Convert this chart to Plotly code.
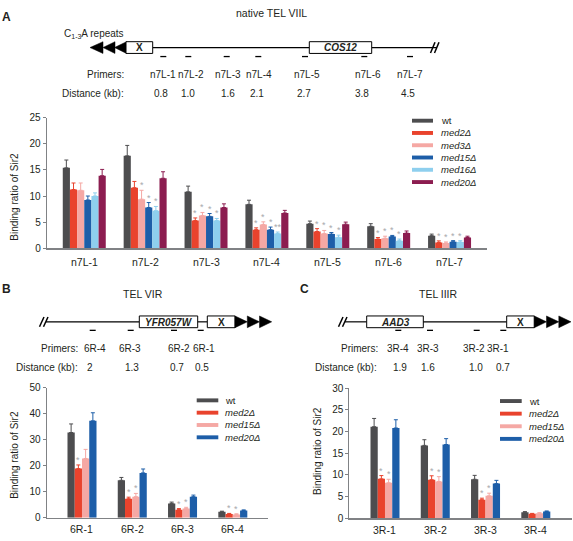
import plotly.graph_objects as go

W, H = 573, 541
def px(x): return x / W
def py(y): return 1 - y / H

FONT = "Liberation Sans, Arial, sans-serif"
TXT = "#231f20"
AX = "#808285"
STAR = "#a7a9ac"

C_WT = "#4d4d4f"
C_RED = "#e9432d"
C_PINK = "#f5a8a4"
C_BLUE = "#1d5ea8"
C_LBLUE = "#8ecfee"
C_MAROON = "#8c1d50"

# ---------------- Panel A data ----------------
cats_A = ["n7L-1", "n7L-2", "n7L-3", "n7L-4", "n7L-5", "n7L-6", "n7L-7"]
series_A = ["wt", "med2Δ", "med3Δ", "med15Δ", "med16Δ", "med20Δ"]
wt_A = [15.4, 17.7, 10.8, 8.4, 4.7, 4.2, 2.4]
wt_A_err = [1.5, 2.0, 1.1, 0.8, 0.5, 0.5, 0.3]
med2_A = [11.25, 11.6, 5.3, 3.55, 3.2, 1.75, 1.1]
med2_A_err = [1.25, 1.2, 0.5, 0.35, 0.55, 0.3, 0.3]
med3_A = [11.1, 9.4, 6.25, 4.55, 2.8, 1.9, 1.0]
med3_A_err = [1.4, 1.7, 0.6, 0.5, 0.6, 0.4, 0.2]
med15_A = [9.25, 7.8, 6.1, 3.55, 2.7, 2.25, 1.25]
med15_A_err = [0.75, 0.95, 0.55, 0.5, 0.3, 0.2, 0.2]
med16_A = [10.0, 7.2, 5.3, 2.8, 2.1, 1.45, 1.2]
med16_A_err = [0.6, 0.8, 0.4, 0.3, 0.4, 0.3, 0.25]
med20_A = [13.9, 13.4, 7.8, 6.75, 4.6, 2.9, 2.05]
med20_A_err = [1.2, 1.25, 0.7, 0.5, 0.4, 0.4, 0.25]
stars_A = {
    "med2Δ": ["", "", "*", "*", "*", "*", "*"],
    "med3Δ": ["", "*", "*", "*", "*", "*", "*"],
    "med15Δ": ["", "*", "*", "*", "*", "*", "*"],
    "med16Δ": ["", "*", "*", "**", "*", "*", "*"],
}
primers_A = ["n7L-1", "n7L-2", "n7L-3", "n7L-4", "n7L-5", "n7L-6", "n7L-7"]
dist_A = ["0.8", "1.0", "1.6", "2.1", "2.7", "3.8", "4.5"]

# ---------------- Panel B data ----------------
cats_B = ["6R-1", "6R-2", "6R-3", "6R-4"]
series_B = ["wt", "med2Δ", "med15Δ", "med20Δ"]
wt_B = [32.8, 14.4, 5.5, 2.25]
wt_B_err = [3.3, 1.1, 0.5, 0.25]
med2_B = [18.9, 7.3, 3.1, 1.4]
med2_B_err = [1.4, 0.6, 0.4, 0.25]
med15_B = [22.8, 8.1, 3.5, 1.25]
med15_B_err = [3.5, 1.25, 0.5, 0.25]
med20_B = [37.3, 17.25, 8.1, 2.75]
med20_B_err = [3.1, 1.5, 0.6, 0.25]
stars_B = {
    "med2Δ": ["*", "*", "*", "*"],
    "med15Δ": ["", "*", "*", "*"],
}
primers_B = ["6R-4", "6R-3", "6R-2", "6R-1"]
dist_B = ["2", "1.3", "0.7", "0.5"]

# ---------------- Panel C data ----------------
cats_C = ["3R-1", "3R-2", "3R-3", "3R-4"]
series_C = ["wt", "med2Δ", "med15Δ", "med20Δ"]
wt_C = [21.1, 16.8, 9.0, 1.4]
wt_C_err = [1.9, 1.3, 0.9, 0.15]
med2_C = [9.1, 8.9, 4.3, 1.05]
med2_C_err = [0.75, 0.9, 0.35, 0.1]
med15_C = [8.2, 8.5, 5.2, 1.2]
med15_C_err = [0.8, 1.1, 0.6, 0.1]
med20_C = [20.8, 17.0, 8.0, 1.6]
med20_C_err = [1.9, 1.35, 0.75, 0.1]
stars_C = {
    "med2Δ": ["*", "*", "*", ""],
    "med15Δ": ["*", "*", "*", ""],
}
primers_C = ["3R-4", "3R-3", "3R-2", "3R-1"]
dist_C = ["1.9", "1.6", "1.0", "0.7"]

panels = [
    dict(xa="x", ya="y", cats=cats_A, series=series_A,
         vals=[wt_A, med2_A, med3_A, med15_A, med16_A, med20_A],
         errs=[wt_A_err, med2_A_err, med3_A_err, med15_A_err, med16_A_err, med20_A_err],
         colors=[C_WT, C_RED, C_PINK, C_BLUE, C_LBLUE, C_MAROON], stars=stars_A,
         group=0.706, xdom=[px(46.7), px(486.7)], ydom=[py(247.7), py(114.3)],
         xr=[-0.617, 6.61], yr=[0, 25], dtick=5, laby=262,
         leg=dict(sx0=412, sx1=433, tx=439, y0=117.3, dy=12.55)),
    dict(xa="x2", ya="y2", cats=cats_B, series=series_B,
         vals=[wt_B, med2_B, med15_B, med20_B],
         errs=[wt_B_err, med2_B_err, med15_B_err, med20_B_err],
         colors=[C_WT, C_RED, C_PINK, C_BLUE], stars=stars_B,
         group=0.577, xdom=[px(46.5), px(268)], ydom=[py(523.3), py(390.5)],
         xr=[-0.706, 3.70], yr=[0, 50], dtick=10, laby=534.5,
         leg=dict(sx0=196.7, sx1=218.3, tx=222.7, y0=403.3, dy=12.6)),
    dict(xa="x3", ya="y3", cats=cats_C, series=series_C,
         vals=[wt_C, med2_C, med15_C, med20_C],
         errs=[wt_C_err, med2_C_err, med15_C_err, med20_C_err],
         colors=[C_WT, C_RED, C_PINK, C_BLUE], stars=stars_C,
         group=0.577, xdom=[px(349.3), px(572)], ydom=[py(524), py(390.7)],
         xr=[-0.71, 3.72], yr=[0, 30], dtick=5, laby=535.5,
         leg=dict(sx0=500, sx1=521.7, tx=526.7, y0=404, dy=12.9)),
]

fig = go.Figure()
shapes = []
annotations = []

def ann(x, y, text, size=10, xanchor="center", yanchor="middle", color=TXT, angle=0):
    annotations.append(dict(x=px(x), y=py(y), xref="paper", yref="paper", text=text,
                            showarrow=False, xanchor=xanchor, yanchor=yanchor,
                            textangle=angle, font=dict(size=size, color=color, family=FONT)))

def line(x0, y0, x1, y1, w=1.2, color="black"):
    shapes.append(dict(type="line", xref="paper", yref="paper", x0=px(x0), y0=py(y0),
                       x1=px(x1), y1=py(y1), line=dict(color=color, width=w)))

def rect(x0, y0, x1, y1, fill="white", lw=1.0, lc="black"):
    shapes.append(dict(type="rect", xref="paper", yref="paper", x0=px(x0), y0=py(y0),
                       x1=px(x1), y1=py(y1), fillcolor=fill,
                       line=dict(color=lc, width=lw)))

def tri(xt, xb, yc, h=12):
    path = "M %f,%f L %f,%f L %f,%f Z" % (px(xt), py(yc), px(xb), py(yc - h / 2), px(xb), py(yc + h / 2))
    shapes.append(dict(type="path", xref="paper", yref="paper", path=path,
                       fillcolor="black", line=dict(color="black", width=0.5)))

layout_axes = {}
for k, p in enumerate(panels):
    n = len(p["series"])
    bw = p["group"] / n
    for j, (name, v, e, c) in enumerate(zip(p["series"], p["vals"], p["errs"], p["colors"])):
        off = -p["group"] / 2 + j * bw
        fig.add_trace(go.Bar(
            x=p["cats"], y=v, name=name, marker=dict(color=c, line=dict(width=0)),
            width=bw, offset=off, xaxis=p["xa"], yaxis=p["ya"], showlegend=False,
            error_y=dict(type="data", array=e, arrayminus=[0] * len(e), symmetric=False,
                         color=c, thickness=1, width=2),
        ))
        if name in p["stars"]:
            for i, s in enumerate(p["stars"][name]):
                if s:
                    annotations.append(dict(
                        x=i + off + bw / 2, y=v[i] + e[i], xref=p["xa"], yref=p["ya"],
                        text=s, showarrow=False, xanchor="center", yanchor="bottom",
                        yshift=-2, font=dict(size=9, color=STAR, family=FONT)))
    # category labels under the x axis
    for i, cname in enumerate(p["cats"]):
        annotations.append(dict(x=i, y=py(p["laby"]), xref=p["xa"], yref="paper",
                                text=cname, showarrow=False, xanchor="center",
                                yanchor="middle", font=dict(size=10.5, color=TXT, family=FONT)))
    # manual legend
    lg = p["leg"]
    for j, (name, c) in enumerate(zip(p["series"], p["colors"])):
        yy = lg["y0"] + j * lg["dy"]
        rect(lg["sx0"], yy - 2, lg["sx1"], yy + 2, fill=c, lw=0, lc=c)
        label = name if name == "wt" else "<i>%s</i>" % name
        ann(lg["tx"], yy, label, size=9.5, xanchor="left")
    sfx = "" if k == 0 else str(k + 1)
    layout_axes["xaxis" + sfx] = dict(
        domain=p["xdom"], range=p["xr"], anchor=p["ya"], type="category",
        showline=True, linecolor=AX, linewidth=1.3, ticks="", showgrid=False,
        zeroline=False, showticklabels=False, fixedrange=True)
    layout_axes["yaxis" + sfx] = dict(
        domain=p["ydom"], range=p["yr"], anchor=p["xa"], dtick=p["dtick"],
        showline=True, linecolor=AX, linewidth=1, ticks="outside", ticklen=3,
        tickcolor=AX, showgrid=False, zeroline=False,
        tickfont=dict(size=10, color=TXT, family=FONT), fixedrange=True)

# y-axis titles
ann(15, 195, "Binding ratio of Sir2", size=10, angle=-90)
ann(15, 459, "Binding ratio of Sir2", size=10, angle=-90)
ann(318, 455, "Binding ratio of Sir2", size=10, angle=-90)

LBL = 10

# ---------------- Diagram A ----------------
ann(6, 11, "<b>A</b>", size=12)
ann(271, 7, "native TEL VIIL", size=10.5)
ann(94, 29, "C<sub>1-3</sub>A repeats", size=10)
line(152.7, 42.5, 309.3, 42.5)
line(371.7, 42.5, 437, 42.5)
tri(90, 103, 42.5); tri(103, 115, 42.5); tri(114.5, 126.5, 42.5)
rect(126, 36.5, 152.7, 48.5)
ann(139.3, 42.7, "<b>X</b>", size=10)
rect(309.3, 36.5, 371.7, 48.5)
ann(340.5, 42.7, "<b><i>COS12</i></b>", size=10)
line(430.5, 48, 435, 37, w=1.5); line(434.5, 48, 439, 37, w=1.5)
for xc in [163.3, 188.3, 226.7, 258.3, 305, 364.3, 410]:
    line(xc - 3, 51.7, xc + 3, 51.7, w=1.3)
ann(126, 70.5, "Primers:", size=10, xanchor="right")
ann(126, 89.5, "Distance (kb):", size=10, xanchor="right")
for xc, t in zip([162.5, 191, 227.5, 259, 306.7, 368, 410], primers_A):
    ann(xc, 70.5, t, size=LBL)
for xc, t in zip([161.5, 188, 227.5, 257, 304, 362, 408.3], dist_A):
    ann(xc, 89.5, t, size=LBL)

# ---------------- Diagram B ----------------
ann(6, 289.5, "<b>B</b>", size=12)
ann(142.5, 295, "TEL VIR", size=10.5)
line(39.5, 328, 44, 318, w=1.5); line(43.5, 328, 48, 318, w=1.5)
line(46, 323, 139.3, 323)
rect(139.3, 317, 197.7, 329)
ann(168.5, 323.2, "<b><i>YFR057W</i></b>", size=10)
line(197.7, 323, 207.3, 323)
rect(207.3, 317, 235, 329)
ann(221, 323.2, "<b>X</b>", size=10)
tri(247.3, 235, 323); tri(259.5, 247.3, 323); tri(271.7, 259.5, 323)
for xc in [92.7, 130.7, 174, 200.7]:
    line(xc - 3, 331.7, xc + 3, 331.7, w=1.3)
ann(80, 350.5, "Primers:", size=10, xanchor="right")
ann(80, 369.5, "Distance (kb):", size=10, xanchor="right")
for xc, t in zip([95, 130, 178.5, 203.5], primers_B):
    ann(xc, 350.5, t, size=LBL)
for xc, t in zip([89.5, 131.5, 177, 202], dist_B):
    ann(xc, 369.5, t, size=LBL)

# ---------------- Diagram C ----------------
ann(304, 289.5, "<b>C</b>", size=12)
ann(438, 295, "TEL IIIR", size=10.5)
line(338.5, 328, 343, 318, w=1.5); line(342.5, 328, 347, 318, w=1.5)
line(345, 323, 366.7, 323)
rect(366.7, 317, 423.3, 329)
ann(395, 323.2, "<b><i>AAD3</i></b>", size=10)
line(423.3, 323, 506.7, 323)
rect(506.7, 317, 534.3, 329)
ann(520.5, 323.2, "<b>X</b>", size=10)
tri(546.5, 534.3, 323); tri(558.8, 546.5, 323); tri(571, 558.8, 323)
for xc in [398.3, 430, 476.7, 503.3]:
    line(xc - 3, 331.7, xc + 3, 331.7, w=1.3)
ann(380, 350.5, "Primers:", size=10, xanchor="right")
ann(379, 369.5, "Distance (kb):", size=10, xanchor="right")
for xc, t in zip([398.3, 427.5, 474, 497.5], primers_C):
    ann(xc, 350.5, t, size=LBL)
for xc, t in zip([400, 428.3, 476, 503.3], dist_C):
    ann(xc, 369.5, t, size=LBL)

fig.update_layout(
    width=W, height=H, margin=dict(l=0, r=0, t=0, b=0),
    paper_bgcolor="white", plot_bgcolor="white",
    barmode="overlay", showlegend=False,
    font=dict(family=FONT, size=10, color=TXT),
    shapes=shapes, annotations=annotations, **layout_axes,
)
fig.write_html("out.html", config={"displayModeBar": False, "staticPlot": True},
               post_script="document.body.style.margin='0';document.body.style.padding='0';"
                           "document.body.style.overflow='hidden';")
